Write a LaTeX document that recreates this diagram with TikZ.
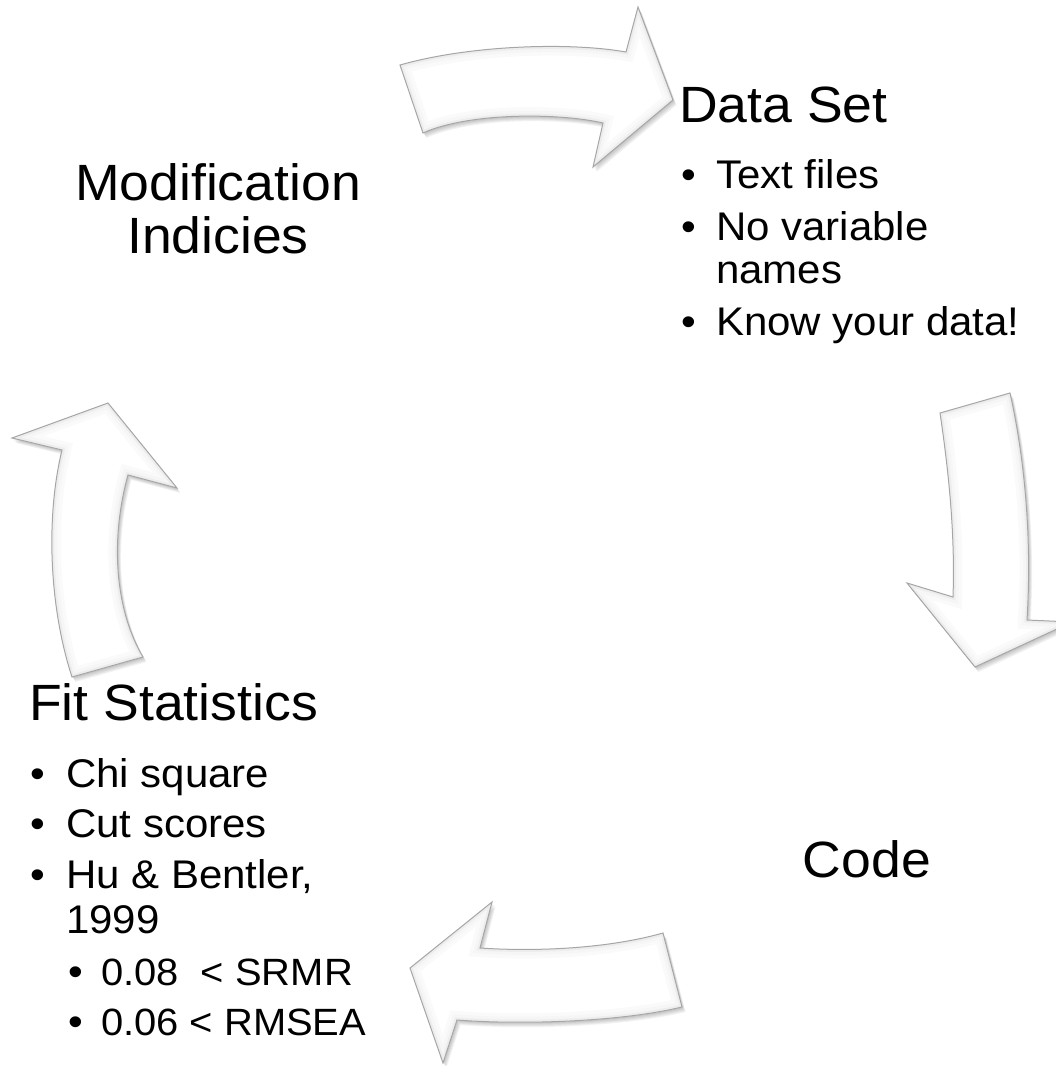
\documentclass[tikz,border=0pt]{standalone}
\usepackage{fontspec}
\setmainfont{Liberation Sans}[FakeStretch=1.05]

\newcommand\arrTop{(400,65) .. controls (470,45) and (570,42) .. (626,52) -- (638,7) -- (673,100) -- (593,167) -- (603,123) .. controls (560,113) and (470,112) .. (423,133) -- cycle}
\newcommand\arrRight{(940,413) -- (1010,393) .. controls (1025,460) and (1032,540) .. (1027,620) -- (1072,622) -- (975,667) -- (907,583) -- (953,597) .. controls (955,540) and (950,480) .. (940,413) -- cycle}
\newcommand\arrBottom{(663,933) -- (682,1007) .. controls (620,1022) and (520,1025) .. (457,1020) -- (443,1063) -- (410,968) -- (492,902) -- (480,948) .. controls (540,952) and (610,948) .. (663,933) -- cycle}
\newcommand\arrLeft{(72,677) .. controls (50,610) and (45,520) .. (62,450) -- (12,438) -- (108,403) -- (177,488) -- (128,475) .. controls (110,540) and (115,610) .. (143,657) -- cycle}

\newcommand\blockarrow[1]{%
  \foreach \s in {1,2,3,4,5} {\fill[black, opacity=0.05, xshift=\s*0.7pt, yshift=-\s*1pt] #1;}
  \fill[white] #1;
  \begin{scope}
    \clip #1;
    \draw[gray!4, line width=18pt, line join=miter] #1;
    \draw[gray!7, line width=11pt, line join=miter] #1;
    \draw[gray!14, line width=5pt, line join=miter] #1;
  \end{scope}
  \draw[gray!70, line width=1pt, line join=miter] #1;
}

\tikzset{
  heading/.style={font=\fontsize{51}{60}\selectfont, inner sep=0pt},
  item/.style={font=\fontsize{40}{44}\selectfont, inner sep=0pt, anchor=base west},
  subitem/.style={font=\fontsize{38}{44}\selectfont, inner sep=0pt, anchor=base west},
  bul/.style={font=\fontsize{40}{44}\selectfont, inner sep=0pt, anchor=base},
}

\begin{document}
\begin{tikzpicture}[x=1pt, y=-1pt]
  \useasboundingbox (0,0) rectangle (1056,1066);
  \clip (0,0) rectangle (1056,1066);

  % block arrows of the cycle
  \blockarrow{\arrTop}
  \blockarrow{\arrRight}
  \blockarrow{\arrBottom}
  \blockarrow{\arrLeft}

  % Data Set
  \node[heading, anchor=base west] (dataset) at (679,122) {Data Set};
  \node[bul] (db1) at (689,188) {•};
  \node[item] (d1) at (716,188) {Text files};
  \node[bul] (db2) at (689,240) {•};
  \node[item] (d2) at (716,240) {No variable};
  \node[item] (d2b) at (716,283) {names};
  \node[bul] (db3) at (689,335) {•};
  \node[item] (d3) at (716,335) {Know your data!};

  % Code
  \node[heading, anchor=base] (code) at (867,877) {Code};

  % Fit Statistics
  \node[heading, anchor=base west] (fit) at (29,720) {Fit Statistics};
  \node[bul] (fb1) at (38,787) {•};
  \node[item] (f1) at (66,787) {Chi square};
  \node[bul] (fb2) at (38,837) {•};
  \node[item] (f2) at (66,837) {Cut scores};
  \node[bul] (fb3) at (38,888) {•};
  \node[item] (f3) at (66,888) {Hu \& Bentler,};
  \node[item] (f3b) at (66,933) {1999};
  \node[bul] (sb1) at (76,985) {•};
  \node[subitem] (s1) at (101,985) {0.08\ \ < SRMR};
  \node[bul] (sb2) at (76,1035) {•};
  \node[subitem] (s2) at (101,1035) {0.06 < RMSEA};

  % Modification Indicies
  \node[heading, anchor=base] (mod1) at (218,200) {Modification};
  \node[heading, anchor=base] (mod2) at (218,253) {Indicies};
\end{tikzpicture}
\end{document}
